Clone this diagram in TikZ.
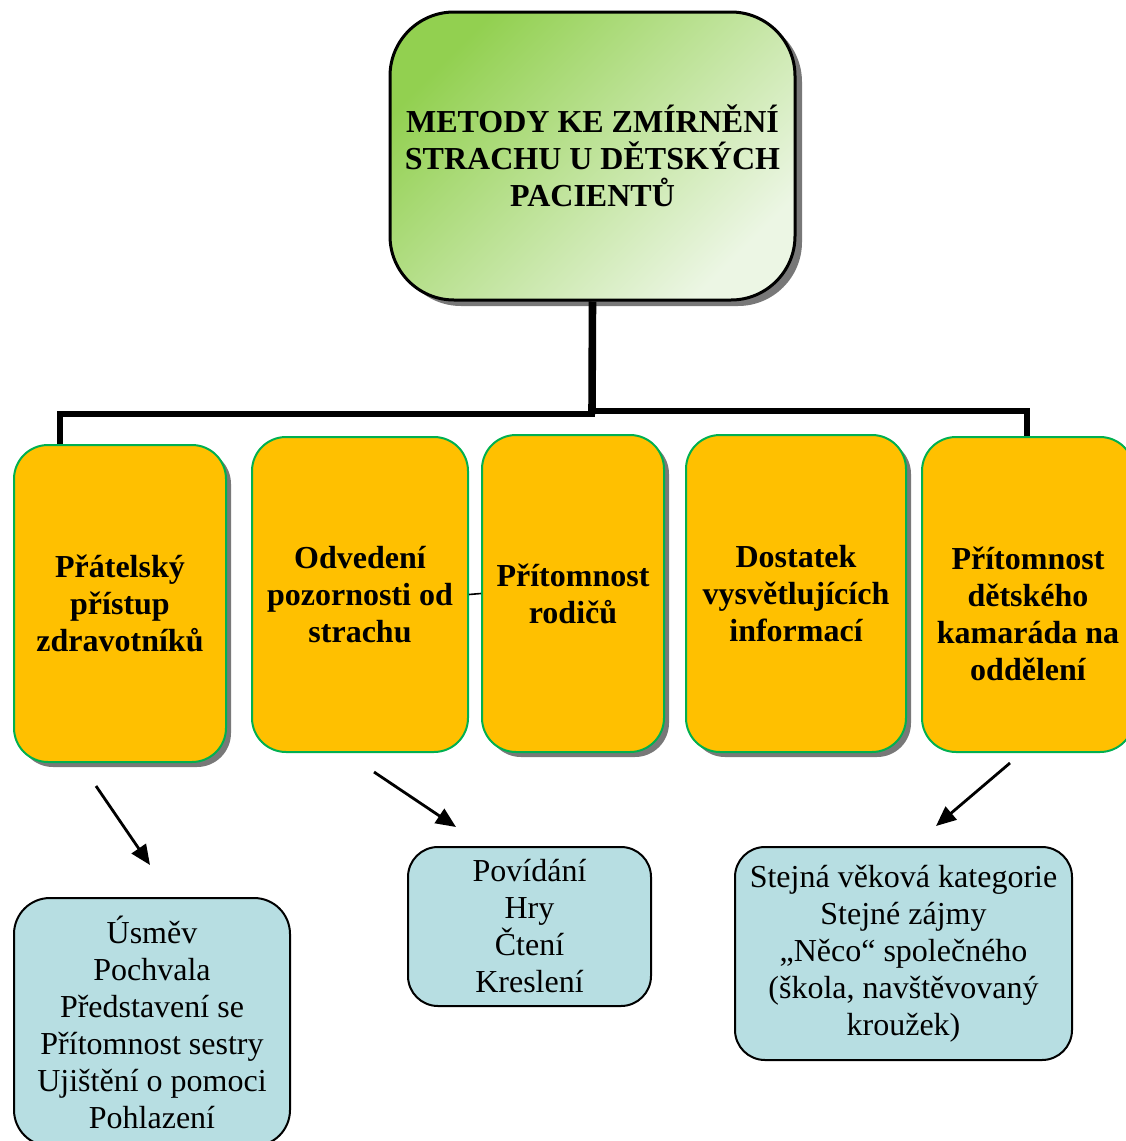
\documentclass[tikz,border=0pt]{standalone}
\usepackage{fontspec}
\setmainfont{Liberation Serif}
\usetikzlibrary{shadows,arrows.meta}

\definecolor{boxorange}{RGB}{255,192,0}
\definecolor{boxgreen}{RGB}{0,176,80}
\definecolor{boxblue}{RGB}{183,222,226}
\definecolor{topgreen}{RGB}{146,208,80}
\definecolor{toplight}{RGB}{236,246,228}
\definecolor{shadowgray}{RGB}{120,120,120}

\tikzset{
  headbox/.style={rectangle, rounded corners=32pt, draw=black, line width=1.5pt,
    top color=topgreen, bottom color=toplight, shading angle=45,
    drop shadow={shadow xshift=3.5pt, shadow yshift=-3pt, fill=shadowgray, opacity=1},
    align=center, inner sep=0pt,
    font=\fontsize{16pt}{18.5pt}\selectfont\bfseries},
  method/.style={rectangle, rounded corners=17pt, draw=boxgreen, line width=1pt,
    fill=boxorange, align=center, inner sep=0pt,
    font=\fontsize{16pt}{18.5pt}\selectfont\bfseries},
  shadowed/.style={drop shadow={shadow xshift=2.5pt, shadow yshift=-2.5pt, fill=shadowgray, opacity=1}},
  detail/.style={rectangle, rounded corners=15pt, draw=black, line width=1pt,
    fill=boxblue, align=center, inner sep=0pt,
    font=\fontsize{16pt}{18.5pt}\selectfont},
  trunk/.style={line width=3pt, draw=black},
  pointer/.style={line width=1.4pt, -{Triangle[length=10pt,width=8.5pt]}},
}

\begin{document}
\begin{tikzpicture}[x=0.5pt, y=-0.5pt]
\useasboundingbox (0,0) rectangle (1125,1141);

% heading
\node[headbox, minimum width=202.5pt, minimum height=144pt] (top) at (592.5,156)
  {METODY KE ZMÍRNĚNÍ\\STRACHU U DĚTSKÝCH\\PACIENTŮ};

% tree connectors
\coordinate (jl) at (592,414);
\coordinate (jr) at (592,411);
\coordinate (d1) at (60,447);
\coordinate (d5) at (1027,439);
\draw[trunk, line width=3.8pt] (top.south) -- (jl);
\draw[trunk, line cap=rect] (jl) -| (d1);
\draw[trunk, line cap=rect] (jr) -| (d5);

% methods
\node[method, shadowed, minimum width=106pt, minimum height=158.5pt] (k1) at (120,603.5)
  {Přátelský\\přístup\\zdravotníků};
\node[method, minimum width=108pt, minimum height=157.5pt] (k2) at (360,594.5)
  {Odvedení\\pozornosti od\\strachu};
\node[method, shadowed, minimum width=91pt, minimum height=158.5pt] (k3) at (573,593.5)
  {Přítomnost\\rodičů};
\node[method, shadowed, minimum width=110pt, minimum height=158.5pt] (k4) at (796,593.5)
  {Dostatek\\vysvětlujících\\informací};
\node[method, minimum width=106pt, minimum height=157.5pt] (k5) at (1028,594.5) {};
\node[align=center, inner sep=0pt, font=\fontsize{16pt}{18.5pt}\selectfont\bfseries]
  (k5t) at (1028,614) {Přítomnost\\dětského\\kamaráda na\\oddělení};

\draw[line width=0.8pt] (k2.east) -- (k3.west);

% details
\node[detail, rounded corners=18pt, minimum width=138pt, minimum height=124pt] (bA) at (152,1022)
  {Úsměv\\Pochvala\\Představení se\\Přítomnost sestry\\Ujištění o pomoci\\Pohlazení};
\node[detail, minimum width=121.5pt, minimum height=79.5pt] (bB) at (529.5,926.5)
  {Povídání\\Hry\\Čtení\\Kreslení};
\node[detail, minimum width=168.5pt, minimum height=106.5pt] (bC) at (903.5,953.5)
  {Stejná věková kategorie\\Stejné zájmy\\„Něco“ společného\\(škola, navštěvovaný\\kroužek)};

% arrows
\coordinate (a1s) at (96,786);  \coordinate (a1e) at (150,865);
\coordinate (a2s) at (374,772); \coordinate (a2e) at (456,827);
\coordinate (a3s) at (1010,763); \coordinate (a3e) at (936,826);
\draw[pointer] (a1s) -- (a1e);
\draw[pointer] (a2s) -- (a2e);
\draw[pointer] (a3s) -- (a3e);
\end{tikzpicture}
\end{document}
